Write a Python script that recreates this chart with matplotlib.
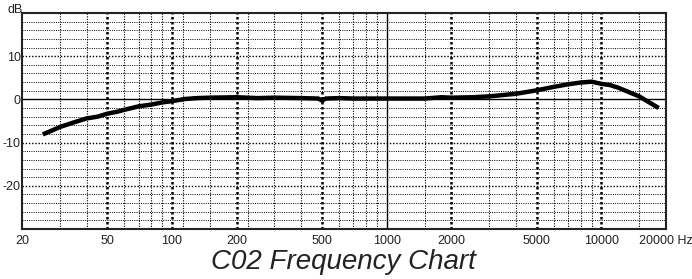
import matplotlib.pyplot as plt
from matplotlib.ticker import NullLocator

# response curve
freq = [25, 27, 30, 35, 40, 45, 50, 55, 60, 70, 80, 90, 100, 115, 130, 150, 200,
        250, 300, 400, 480, 500, 520, 600, 700, 800, 1000, 1500, 1800, 2000, 2500,
        3000, 4000, 5000, 6000, 7000, 8000, 9000, 10000, 11000, 12000, 15000, 18500]
level = [-8.1, -7.4, -6.4, -5.3, -4.4, -4.0, -3.3, -2.9, -2.4, -1.6, -1.2, -0.7, -0.4,
         0.1, 0.3, 0.4, 0.5, 0.3, 0.4, 0.3, 0.2, -0.3, 0.2, 0.3, 0.2, 0.2, 0.2, 0.2,
         0.5, 0.4, 0.5, 0.7, 1.3, 2.1, 2.9, 3.5, 3.9, 4.1, 3.6, 3.3, 2.7, 0.7, -2.0]

major_hz = [50, 100, 200, 500, 2000, 5000, 10000]
minor_hz = [30, 40, 60, 70, 80, 90, 112, 150, 225, 300, 400, 600, 700, 800, 900,
            1500, 3000, 4000, 6000, 7000, 8000, 9000, 15000]
tick_hz = [20, 50, 100, 200, 500, 1000, 2000, 5000, 10000, 20000]
tick_labels = ['20', '50', '100', '200', '500', '1000', '2000', '5000', '10000', '20000 Hz']
db_ticks = [-20, -10, 0, 10]

plt.rcParams['font.family'] = ['Liberation Sans', 'DejaVu Sans']
plt.rcParams['axes.unicode_minus'] = False

fig = plt.figure(figsize=(6.92, 2.79), dpi=100)
ax = fig.add_axes([22 / 692, 1 - 229 / 279, 644 / 692, 216 / 279])
ax.set_xscale('log')
ax.set_xlim(20, 20000)
ax.set_ylim(-30, 20)

# dotted grid
for y in range(-28, 20, 2):
    if y == 0:
        continue
    lw = 1.0 if y % 10 == 0 else 0.7
    ax.axhline(y, color='k', lw=lw, ls=(0, (1, 1.3)), zorder=1)
for x in minor_hz:
    ax.axvline(x, color='k', lw=0.8, ls=(0, (1, 1.3)), zorder=1)
for x in major_hz:
    ax.axvline(x, color='k', lw=1.8, ls=(0, (1, 1)), zorder=1)
ax.axvline(1000, color='k', lw=1.0, zorder=2)
ax.axhline(0, color='k', lw=1.0, zorder=2)

ax.plot(freq, level, color='k', lw=3.2, solid_capstyle='butt', zorder=3)

ax.set_xticks(tick_hz)
ax.set_xticklabels(tick_labels)
ax.xaxis.set_minor_locator(NullLocator())
ax.set_yticks(db_ticks)
ax.tick_params(length=0, labelsize=9, colors='#222222')
ax.tick_params(axis='x', pad=4)
ax.tick_params(axis='y', pad=1)
for s in ax.spines.values():
    s.set_linewidth(1.5)
    s.set_color('#222222')

fig.text(7 / 692, 1 - 13 / 279, 'dB', fontsize=9, va='baseline', color='#222222')
fig.text(0.496, 0.035, 'C02 Frequency Chart', fontsize=20, style='italic',
         ha='center', va='baseline', color='#222222')

fig.savefig('out.png', dpi=100)
